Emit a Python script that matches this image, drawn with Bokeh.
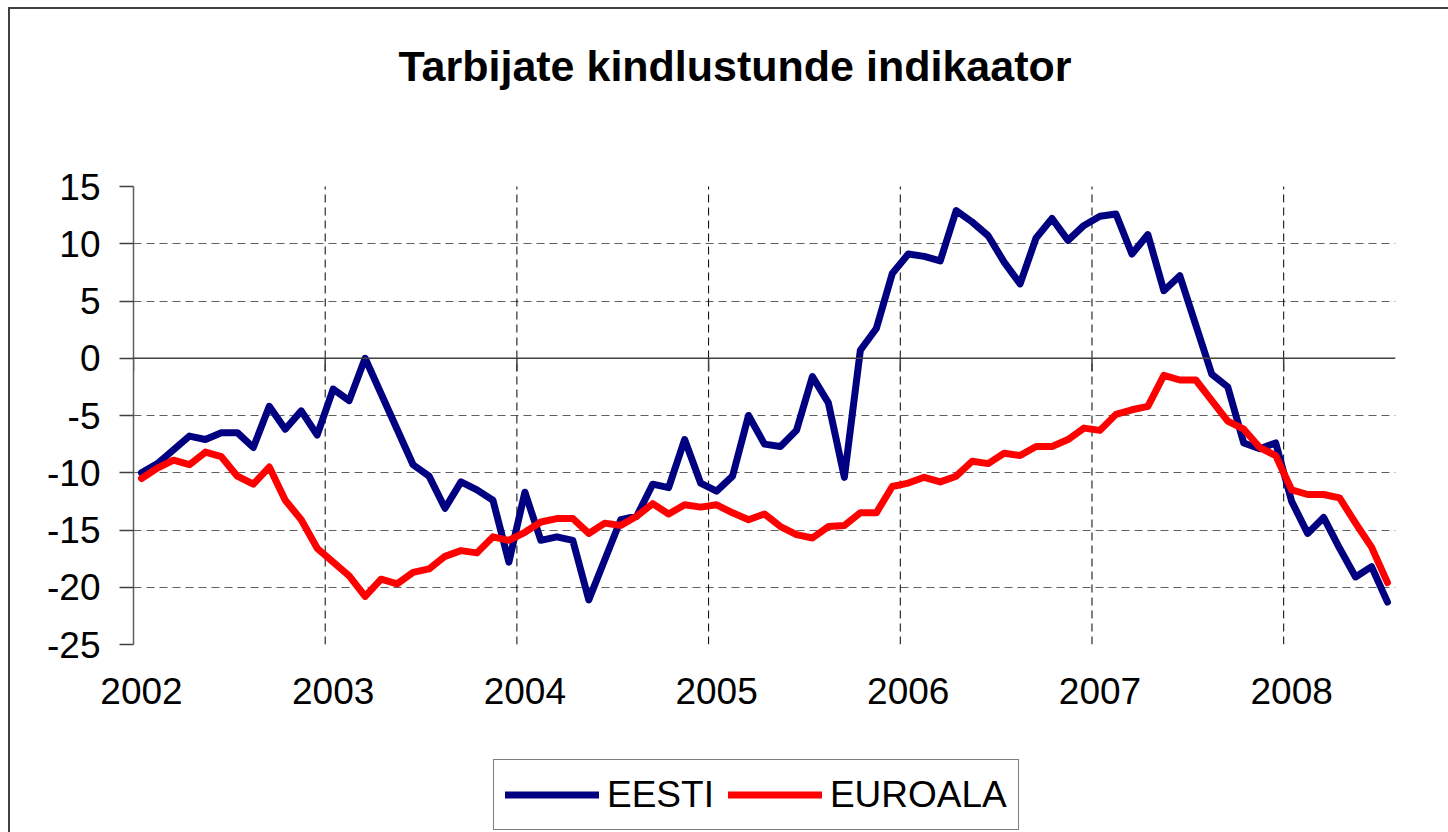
from bokeh.plotting import figure
from bokeh.models import FixedTicker, Span, Legend, LegendItem, Range1d, Label
from bokeh.layouts import column
from bokeh.embed import file_html
from bokeh.resources import INLINE
import numpy as np

chart_title = "Tarbijate kindlustunde indikaator"
years = ["2002", "2003", "2004", "2005", "2006", "2007", "2008"]
y_ticks = [-25, -20, -15, -10, -5, 0, 5, 10, 15]
series_names = ["EESTI", "EUROALA"]

# monthly values Jan 2002 .. Jul 2008
eesti = [
    -10.0, -9.2, -8.0, -6.8, -7.1, -6.5, -6.5, -7.8, -4.2, -6.2, -4.6, -6.7,
    -2.7, -3.7, 0.0, -3.1, -6.2, -9.3, -10.3, -13.1, -10.8, -11.5, -12.4, -17.8,
    -11.7, -15.9, -15.6, -15.9, -21.1, -17.6, -14.1, -13.8, -11.0, -11.3, -7.1, -10.9,
    -11.6, -10.3, -5.0, -7.5, -7.7, -6.3, -1.6, -3.9, -10.4, 0.7, 2.6, 7.4,
    9.1, 8.9, 8.5, 12.9, 11.9, 10.7, 8.4, 6.5, 10.5, 12.2, 10.3, 11.6,
    12.4, 12.6, 9.1, 10.8, 5.9, 7.2, 2.9, -1.4, -2.5, -7.4, -7.9, -7.4,
    -12.5, -15.3, -13.9, -16.6, -19.1, -18.2, -21.3,
]
euroala = [
    -10.5, -9.6, -8.9, -9.3, -8.2, -8.6, -10.3, -11.0, -9.5, -12.4, -14.1, -16.6,
    -17.8, -19.0, -20.8, -19.3, -19.7, -18.7, -18.4, -17.3, -16.8, -17.0, -15.6, -15.9,
    -15.2, -14.3, -14.0, -14.0, -15.3, -14.4, -14.6, -13.8, -12.7, -13.6, -12.8, -13.0,
    -12.8, -13.5, -14.1, -13.6, -14.7, -15.4, -15.7, -14.7, -14.6, -13.5, -13.5, -11.2,
    -10.9, -10.4, -10.8, -10.3, -9.0, -9.2, -8.3, -8.5, -7.7, -7.7, -7.1, -6.1,
    -6.3, -4.9, -4.5, -4.2, -1.5, -1.9, -1.9, -3.7, -5.5, -6.2, -7.8, -8.5,
    -11.5, -11.9, -11.9, -12.2, -14.4, -16.5, -19.6,
]

n = len(eesti)
month_pos = np.arange(n) + 0.5          # category centres
year_bounds = np.arange(len(years)) * 12  # boundaries between years
FONT = "Liberation Sans"
BLUE, RED = "#000080", "#FF0000"
LW = 7

# layout (pixels)
W = 1438
H1, H2 = 735, 88
FRAME_LEFT, FRAME_RIGHT, FRAME_BOTTOM = 123, 53, 100
VAL_TOP_PX = 177.0                    # canvas y of top tick
VAL_BOTTOM_PX = H1 - FRAME_BOTTOM     # canvas y of bottom tick
ppu = (VAL_BOTTOM_PX - VAL_TOP_PX) / (y_ticks[-1] - y_ticks[0])
y_hi = y_ticks[-1] + VAL_TOP_PX / ppu

p = figure(width=W, height=H1, output_backend="svg", toolbar_location=None, title=None,
           x_range=Range1d(0, n), y_range=Range1d(y_ticks[0], y_hi),
           min_border_left=FRAME_LEFT, min_border_right=FRAME_RIGHT, min_border_top=0,
           min_border_bottom=FRAME_BOTTOM)
p.outline_line_color = None
p.background_fill_color = "white"
p.border_fill_color = "white"
p.xgrid.visible = False

# title
p.add_layout(Label(x=265, y=VAL_BOTTOM_PX - 56, x_units="screen", y_units="screen",
                   text=chart_title, text_font=FONT, text_font_size="43px",
                   text_font_style="bold", text_color="black",
                   text_align="left", text_baseline="alphabetic"))

# x axis (labels at first month of each year)
xa = p.xaxis[0]
xa.ticker = FixedTicker(ticks=list(year_bounds + 0.5))
xa.major_label_overrides = {float(b + 0.5): y for b, y in zip(year_bounds, years)}
xa.axis_line_color = None
xa.major_tick_line_color = None
xa.minor_tick_line_color = None
xa.major_label_text_font = FONT
xa.major_label_text_font_size = "37px"
xa.major_label_text_color = "black"
xa.major_label_standoff = 27

# y axis
ya = p.yaxis[0]
ya.bounds = (y_ticks[0], y_ticks[-1])
ya.ticker = FixedTicker(ticks=y_ticks)
ya.major_label_overrides = {t: str(t) for t in y_ticks}
ya.axis_line_color = "#606060"
ya.axis_line_width = 1.5
ya.major_tick_line_color = "#404040"
ya.major_tick_line_width = 1.5
ya.major_tick_out = 14
ya.major_tick_in = 0
ya.minor_tick_line_color = None
ya.major_label_text_font = FONT
ya.major_label_text_font_size = "37px"
ya.major_label_text_color = "black"
ya.major_label_standoff = 19

# grids
p.ygrid.ticker = FixedTicker(ticks=[t for t in y_ticks[1:-1] if t != 0])
p.ygrid.grid_line_color = "#606060"
p.ygrid.grid_line_dash = "8 5"
p.ygrid.grid_line_width = 1
p.segment(x0=year_bounds[1:], y0=y_ticks[0], x1=year_bounds[1:], y1=y_ticks[-1],
          line_color="black", line_width=1, line_dash="8 5")

# zero (category) axis line with ticks
p.add_layout(Span(location=0, dimension="width", line_color="#404040", line_width=1.5))
tick_len = 13 / ppu
p.segment(x0=year_bounds, y0=0, x1=year_bounds, y1=-tick_len,
          line_color="#404040", line_width=1.5)

p.line(month_pos, eesti, line_color=BLUE, line_width=LW,
       line_join="round", line_cap="round")
p.line(month_pos, euroala, line_color=RED, line_width=LW,
       line_join="round", line_cap="round")

# legend strip below the chart (series drawn out of view, only the key shows)
q = figure(width=W, height=H2, output_backend="svg", toolbar_location=None, title=None,
           x_range=Range1d(1000, 1001), y_range=Range1d(1000, 1001),
           min_border_left=0, min_border_right=0, min_border_top=0, min_border_bottom=0)
q.axis.visible = False
q.grid.visible = False
q.outline_line_color = None
q.background_fill_color = "white"
q.border_fill_color = "white"
k1 = q.line(month_pos, eesti, line_color=BLUE, line_width=LW, line_cap="round")
k2 = q.line(month_pos, euroala, line_color=RED, line_width=LW, line_cap="round")
legend = Legend(items=[LegendItem(label=series_names[0], renderers=[k1]),
                       LegendItem(label=series_names[1], renderers=[k2])],
                location=(360, 2), orientation="horizontal")
legend.label_text_font = FONT
legend.label_text_font_size = "37px"
legend.label_text_color = "black"
legend.glyph_width = 94
legend.glyph_height = 47
legend.label_height = 47
legend.label_standoff = 8
legend.spacing = 14
legend.padding = 11
legend.margin = 0
legend.border_line_color = "black"
legend.border_line_width = 1
legend.background_fill_color = "white"
legend.background_fill_alpha = 1
q.add_layout(legend)

layout = column(p, q, spacing=0)
layout.styles = {"margin-left": "8px", "margin-top": "7px",
                 "border-left": "2px solid #404040", "border-top": "2px solid #404040"}

open("out.html", "w").write(file_html(layout, INLINE))
